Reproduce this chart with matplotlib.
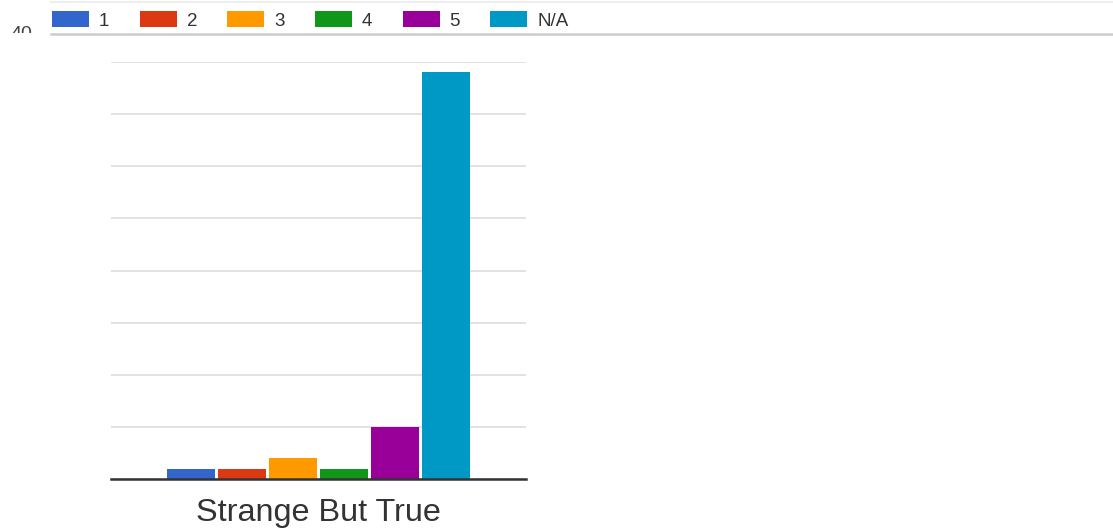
import matplotlib.pyplot as plt
from matplotlib.lines import Line2D
from matplotlib.transforms import Bbox, TransformedBbox

# data
categories = ['Strange But True']
series = ['1', '2', '3', '4', '5', 'N/A']
counts = [1, 1, 2, 1, 5, 39]
colors = ['#3366cc', '#dc3912', '#ff9900', '#109618', '#990099', '#0099c6']
yticks = [0, 5, 10, 15, 20, 25, 30, 35, 40]

W, H = 1113, 532
fig = plt.figure(figsize=(W / 100, H / 100), dpi=100)
plt.rcParams['font.family'] = ['Liberation Sans', 'DejaVu Sans']

ax = fig.add_axes([111 / W, 1 - 479 / H, (526 - 111) / W, (479 - 62) / H])

step = 0.123
width = 0.114
bars = []
for i, (name, val, col) in enumerate(zip(series, counts, colors)):
    b = ax.bar(0 + (i - 2.5) * step, val, width=width, color=col, label=name, zorder=3)
    bars.append(b)

ax.set_xlim(-0.5, 0.5)
ax.set_ylim(0, 40)
ax.set_yticks(yticks)
ax.set_yticklabels([])
ax.tick_params(axis='y', length=0)
ax.set_xticks([0])
ax.set_xticklabels(categories, fontsize=23.3, color='#333333')
ax.tick_params(axis='x', length=0, pad=14)
ax.grid(axis='y', color='#dddddd', linewidth=1.2, zorder=0)
for s in ['top', 'right', 'left']:
    ax.spines[s].set_visible(False)
ax.spines['bottom'].set_color('#333333')
ax.spines['bottom'].set_linewidth(1.8)
ax.spines['bottom'].set_zorder(4)

# legend along the top
fig.legend(handles=[b[0] for b in bars], labels=series, loc='center left',
           bbox_to_anchor=(52 / W, 1 - 20.5 / H), ncol=6, frameon=False,
           fontsize=13.5, handlelength=1.97, handleheight=0.9,
           handletextpad=0.53, columnspacing=1.62, borderpad=0, borderaxespad=0,
           labelcolor='#333333')

# cut-off strip lines and label from the chart above
fig.add_artist(Line2D([51 / W, 1], [1 - 2 / H, 1 - 2 / H], color='#eeeeee', linewidth=1.5))
fig.add_artist(Line2D([51 / W, 1], [1 - 33.5 / H, 1 - 33.5 / H], color='#cccccc', linewidth=1.8))
t = fig.text(21 / W, 1 - 39 / H, '40', ha='center', va='baseline', fontsize=14, color='#444444')
t.set_clip_box(TransformedBbox(Bbox([[0, 1 - 33 / H], [51 / W, 1]]), fig.transFigure))
t.set_clip_on(True)

fig.savefig('out.png', dpi=100, facecolor='white')
